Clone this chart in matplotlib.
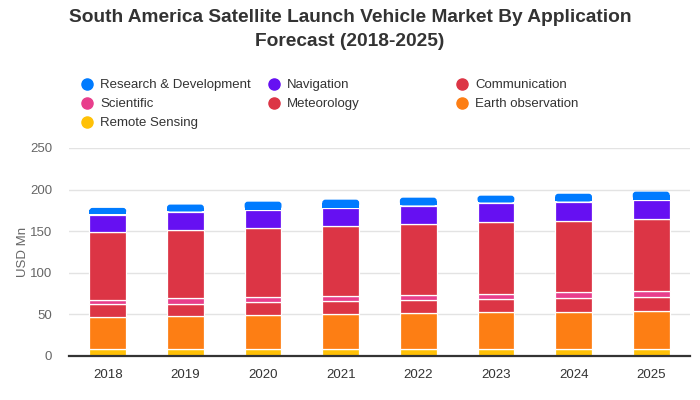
import matplotlib.pyplot as plt
from matplotlib.lines import Line2D
from matplotlib.patches import FancyBboxPatch

plt.rcParams['font.family'] = ['Liberation Sans', 'DejaVu Sans']

# Datos (USD Mn)
anios = ['2018', '2019', '2020', '2021', '2022', '2023', '2024', '2025']
remote_sensing = [8.0, 8.0, 8.0, 8.0, 8.0, 8.0, 8.0, 8.0]
earth_obs = [38.5, 39.7, 41.0, 42.0, 43.3, 44.5, 44.5, 45.7]
meteorology = [15.5, 15.3, 15.5, 15.7, 15.7, 15.5, 17.2, 16.8]
scientific = [5.0, 6.3, 6.0, 6.0, 6.0, 6.0, 6.8, 7.2]
communication = [81.7, 81.7, 83.0, 84.0, 85.3, 86.7, 85.5, 86.6]
navigation = [21.3, 21.7, 21.5, 21.7, 21.7, 22.8, 22.7, 22.7]
research_dev = [8.0, 9.3, 10.5, 10.5, 10.3, 9.2, 10.3, 10.5]

# Series en orden de apilado (de abajo hacia arriba)
series = [
    ('Remote Sensing', remote_sensing, '#ffc107'),
    ('Earth observation', earth_obs, '#fd7e14'),
    ('Meteorology', meteorology, '#dc3545'),
    ('Scientific', scientific, '#e83e8c'),
    ('Communication', communication, '#dc3545'),
    ('Navigation', navigation, '#6610f2'),
    ('Research & Development', research_dev, '#007bff'),
]

fig = plt.figure(figsize=(7, 4), dpi=100)
ax = fig.add_axes([69 / 700, 44 / 400, 621 / 700, 208 / 400])

ancho = 0.475
hueco = 1.0  # separación blanca (unidades de datos) bajo el segmento superior
x = list(range(len(anios)))
base = [0.0] * len(anios)
for k, (nombre, valores, color) in enumerate(series):
    if k < len(series) - 1:
        ax.bar(x, valores, width=ancho, bottom=base, color=color,
               edgecolor='white', linewidth=0.9, zorder=3)
    else:
        # segmento superior con esquinas redondeadas arriba
        aspecto = (250 / 208) / (8 / 621)
        for xi, b, v in zip(x, base, valores):
            ax.add_patch(FancyBboxPatch((xi - ancho / 2, b + hueco), ancho, v - hueco,
                                        boxstyle='round,pad=0,rounding_size=0.04',
                                        mutation_aspect=aspecto, facecolor=color,
                                        linewidth=0, zorder=4))
        ax.bar(x, [v / 2 for v in valores], width=ancho,
               bottom=[b + hueco for b in base], color=color,
               linewidth=0, zorder=4)
    base = [b + v for b, v in zip(base, valores)]

ax.set_xlim(-0.5, len(anios) - 0.5)
ax.set_ylim(0, 250)
ax.set_yticks([0, 50, 100, 150, 200, 250])
ax.set_xticks(x)
ax.set_xticklabels(anios)
ax.grid(axis='y', color='#e3e3e3', linewidth=1, zorder=0)
for s in ['top', 'right', 'left']:
    ax.spines[s].set_visible(False)
ax.spines['bottom'].set_color('#333333')
ax.spines['bottom'].set_linewidth(1.6)
ax.spines['bottom'].set_zorder(5)
ax.tick_params(axis='y', length=0, labelsize=9.5, labelcolor='#666666', pad=12)
ax.tick_params(axis='x', length=0, labelsize=9.5, labelcolor='#333333', pad=9)
ax.set_ylabel('USD Mn', fontsize=9.5, color='#666666', labelpad=1)

# Título
fig.text(0.5, 1 - 18 / 400, 'South America Satellite Launch Vehicle Market By Application',
         ha='center', va='center', fontsize=13.8, fontweight='bold', color='#333333')
fig.text(0.5, 1 - 42 / 400, 'Forecast (2018-2025)',
         ha='center', va='center', fontsize=13.8, fontweight='bold', color='#333333')

# Leyenda manual (orden por filas)
orden_leyenda = ['Research & Development', 'Navigation', 'Communication',
                 'Scientific', 'Meteorology', 'Earth observation', 'Remote Sensing']
colores = {n: c for n, _, c in series}
col_x = [87, 273.5, 461.5]
fila_y = [83.5, 102.5, 121.5]
for i, nombre in enumerate(orden_leyenda):
    cx = col_x[i % 3]
    cy = fila_y[i // 3]
    fig.add_artist(Line2D([cx / 700], [1 - cy / 400], marker='o', markersize=8,
                          color=colores[nombre], linestyle='none',
                          transform=fig.transFigure))
    fig.text((cx + 13.5) / 700, 1 - (cy + 4.5) / 400, nombre, ha='left', va='baseline',
             fontsize=9.5, color='#333333')

fig.savefig('out.png', dpi=100)
